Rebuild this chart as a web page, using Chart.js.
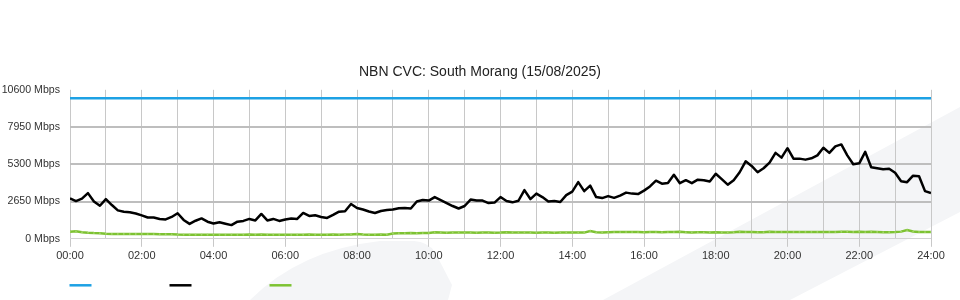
<!DOCTYPE html>
<html><head><meta charset="utf-8">
<script src="https://cdn.jsdelivr.net/npm/chart.js@4/dist/chart.umd.min.js"></script>
<style>html,body{margin:0;padding:0;background:#fff;}#wrap{position:relative;width:960px;height:300px;}</style>
</head><body><div id="wrap"><canvas id="c" width="960" height="300"></canvas></div>
<script>
const chartTitle = 'NBN CVC: South Morang (15/08/2025)';
const timeLabels = [
'00:00','00:10','00:20','00:30','00:40','00:50','01:00','01:10','01:20','01:30','01:40','01:50',
'02:00','02:10','02:20','02:30','02:40','02:50','03:00','03:10','03:20','03:30','03:40','03:50',
'04:00','04:10','04:20','04:30','04:40','04:50','05:00','05:10','05:20','05:30','05:40','05:50',
'06:00','06:10','06:20','06:30','06:40','06:50','07:00','07:10','07:20','07:30','07:40','07:50',
'08:00','08:10','08:20','08:30','08:40','08:50','09:00','09:10','09:20','09:30','09:40','09:50',
'10:00','10:10','10:20','10:30','10:40','10:50','11:00','11:10','11:20','11:30','11:40','11:50',
'12:00','12:10','12:20','12:30','12:40','12:50','13:00','13:10','13:20','13:30','13:40','13:50',
'14:00','14:10','14:20','14:30','14:40','14:50','15:00','15:10','15:20','15:30','15:40','15:50',
'16:00','16:10','16:20','16:30','16:40','16:50','17:00','17:10','17:20','17:30','17:40','17:50',
'18:00','18:10','18:20','18:30','18:40','18:50','19:00','19:10','19:20','19:30','19:40','19:50',
'20:00','20:10','20:20','20:30','20:40','20:50','21:00','21:10','21:20','21:30','21:40','21:50',
'22:00','22:10','22:20','22:30','22:40','22:50','23:00','23:10','23:20','23:30','23:40','23:50',
'24:00'];
const capacityTimes = ['00:00','24:00'];
const capacityMbps = [10000, 10000];
const downloadMbps = [
2876,2685,2862,3250,2650,2353,2827,2403,2021,1929,1887,1802,
1668,1519,1512,1413,1378,1555,1816,1343,1060,1286,1450,1216,
1088,1180,1074,975,1216,1272,1413,1307,1767,1307,1413,1272,
1378,1449,1413,1837,1625,1675,1555,1484,1696,1929,1958,2473,
2191,2085,1943,1837,1979,2049,2085,2170,2191,2155,2650,2756,
2721,2968,2756,2544,2332,2155,2332,2791,2721,2721,2544,2579,
2968,2685,2594,2707,3463,2827,3215,2968,2650,2685,2615,3109,
3357,4028,3392,3781,2968,2897,3039,2912,3074,3286,3215,3180,
3427,3724,4134,3922,3972,4558,3957,4170,3957,4205,4170,4078,
4629,4240,3851,4170,4735,5512,5180,4735,5018,5420,6113,5774,
6445,5703,5703,5632,5724,5936,6480,6113,6572,6714,5936,5300,
5371,6184,5088,5018,4947,4982,4700,4099,4028,4488,4452,3392,
3251];
const uploadMbps = [
495,540,470,430,410,400,360,350,345,345,340,340,
340,335,335,330,330,320,300,290,290,290,290,290,
290,285,285,290,285,290,300,290,310,290,290,285,
280,285,295,290,300,290,295,290,300,290,300,310,
340,300,290,290,300,295,380,400,400,405,400,410,
420,470,450,430,440,445,440,445,430,450,440,430,
440,460,450,440,445,440,430,450,440,430,450,455,
450,440,440,560,460,450,470,480,480,480,475,480,
470,480,480,470,480,480,500,470,440,470,460,440,
470,450,450,470,500,480,490,470,470,500,490,490,
490,490,490,490,490,490,480,490,480,500,510,490,
500,480,500,490,470,470,480,510,620,520,490,480,
490];
const xTickLabels = ['00:00','02:00','04:00','06:00','08:00','10:00','12:00','14:00','16:00','18:00','20:00','22:00','24:00'];
const yMax = 10600;
const yStep = 2650;

const toHours = s => { const p = s.split(':').map(Number); return p[0] + p[1] / 60; };
const pts = (times, vals) => vals.map((v, i) => ({x: toHours(times[i]), y: v}));

const watermark = {
  id: 'watermark',
  beforeDraw(chart) {
    const ctx = chart.ctx;
    ctx.save();
    ctx.fillStyle = '#f4f5f7';
    ctx.beginPath();
    ctx.moveTo(603, 300); ctx.lineTo(960, 107); ctx.lineTo(960, 212); ctx.lineTo(790, 300);
    ctx.closePath(); ctx.fill();
    ctx.beginPath();
    ctx.moveTo(250, 300);
    ctx.quadraticCurveTo(300, 250, 380, 241);
    ctx.lineTo(414, 241);
    ctx.quadraticCurveTo(428, 242, 435, 252);
    ctx.lineTo(452, 285); ctx.lineTo(448, 300);
    ctx.closePath(); ctx.fill();
    ctx.restore();
  }
};
const lineLegend = {
  id: 'lineLegend',
  afterDraw(chart) {
    const ctx = chart.ctx;
    ctx.save();
    chart.data.datasets.forEach((ds, i) => {
      ctx.strokeStyle = ds.borderColor;
      ctx.lineWidth = 2.5;
      ctx.beginPath();
      ctx.moveTo(69.5 + 100 * i, 285.3);
      ctx.lineTo(91.5 + 100 * i, 285.3);
      ctx.stroke();
    });
    ctx.restore();
  }
};

Chart.defaults.font.family = "'Liberation Sans', Arial, sans-serif";
Chart.defaults.font.size = 11;
Chart.defaults.color = '#333';

new Chart(document.getElementById('c'), {
  type: 'line',
  data: {
    datasets: [
      {label: 'Capacity', data: pts(capacityTimes, capacityMbps), borderColor: '#1da1e4', borderWidth: 2.5, pointRadius: 0, tension: 0},
      {label: 'Download', data: pts(timeLabels, downloadMbps), borderColor: '#000000', borderWidth: 2.5, pointRadius: 0, tension: 0, borderJoinStyle: 'round'},
      {label: 'Upload', data: pts(timeLabels, uploadMbps), borderColor: '#7dc232', borderWidth: 2.5, pointRadius: 0.9, pointBorderWidth: 0, pointBackgroundColor: '#a3d667', tension: 0}
    ]
  },
  options: {
    responsive: false, animation: false, devicePixelRatio: 1,
    layout: {padding: {left: 0, right: 0, top: 0, bottom: 34}},
    plugins: {
      legend: {display: false},
      tooltip: {enabled: false},
      title: {display: true, text: chartTitle, color: '#222', font: {size: 14, weight: 'normal'}, padding: {top: 64, bottom: 9}}
    },
    scales: {
      x: {
        type: 'linear', min: 0, max: 24,
        border: {display: false},
        grid: {
          color: '#c8c8c8', lineWidth: 1, tickLength: 8,
          tickColor: c => (c.tick && c.tick.value % 2 === 0) ? '#c8c8c8' : 'rgba(0,0,0,0)'
        },
        ticks: {stepSize: 1, autoSkip: false, maxRotation: 0, padding: 3,
          callback: v => v % 2 === 0 ? xTickLabels[v / 2] : ''}
      },
      y: {
        min: 0, max: yMax,
        border: {display: false},
        afterFit: s => { s.width = 70; },
        grid: {
          drawTicks: false,
          color: c => c.tick.value === yMax ? 'rgba(0,0,0,0)' : (c.tick.value === 0 ? '#d2d2d2' : '#bebebe'),
          lineWidth: c => c.tick.value === 0 ? 1 : 2
        },
        ticks: {stepSize: yStep, padding: 10, font: {size: 10.6}, callback: v => v + ' Mbps'}
      },
      yRight: {
        position: 'right', min: 0, max: yMax,
        border: {display: false},
        grid: {display: false},
        ticks: {display: false},
        afterFit: s => { s.width = 29; }
      }
    }
  },
  plugins: [watermark, lineLegend]
});
</script></body></html>
